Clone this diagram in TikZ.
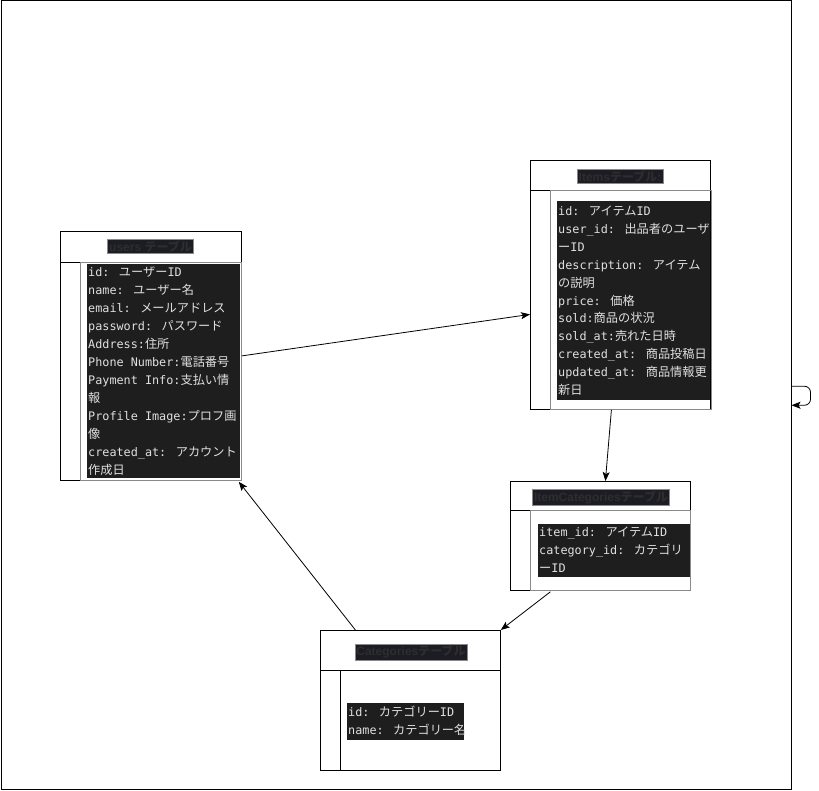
\documentclass[tikz,border=0pt]{standalone}
\usepackage{fontspec}
\usetikzlibrary{arrows.meta}
\newfontfamily\monof{DejaVu Sans Mono}
\newfontfamily\cjkf{Noto Sans CJK JP}
\newfontfamily\ttlf{Liberation Sans}
\newcommand\J[1]{{\cjkf\fontsize{12.2}{18}\selectfont #1}}
\newcommand\JT[1]{{\cjkf\fontsize{12}{14}\selectfont #1}}
\definecolor{codebg}{HTML}{1E1E1E}
\definecolor{codefg}{HTML}{E0E0E0}
\definecolor{titlebg}{HTML}{1C1C24}
\definecolor{titlefg}{HTML}{2E2E2E}
\definecolor{innergray}{HTML}{8A8A8A}
\tikzset{
  tbl/.style={draw=black, line width=0.8pt, anchor=north west, inner sep=0pt},
  ttl/.style={fill=titlebg, draw=innergray, text=titlefg, inner sep=1.5pt,
    font=\ttlf\bfseries\fontsize{12}{14}\selectfont},
  codetxt/.style={text=codefg, inner sep=0pt, anchor=base west,
    font=\monof\fontsize{11.8}{18}\selectfont},
  conn/.style={draw, line width=0.8pt, -{Stealth[length=9pt,width=7pt,inset=2pt]}},
}
\newcommand\cl[4]{\node[codetxt] (#1) at (#2,#3) {#4};}
\begin{document}
\begin{tikzpicture}[x=1pt,y=-1pt]
\useasboundingbox (0,0) rectangle (819,791);
\node[draw, line width=1pt, minimum width=790pt, minimum height=788.5pt, anchor=north west, inner sep=0pt] (frame) at (0.5,0.5) {};

% ---------- users ----------
\node[tbl, minimum width=181pt, minimum height=249pt] (users) at (60,231) {};
\draw[line width=0.8pt] (60,262) -- (241,262);
\draw[line width=0.8pt] (80,262) -- (80,480);
\draw[innergray, line width=0.8pt] (80.5,262) rectangle (241.5,480);
\node[ttl] (tu) at (150.5,246.5) {users \JT{テーブル}};
\fill[codebg] (87,264) rectangle (240,478);
\cl{u1}{88}{276.5}{id: \J{ユーザー}ID}
\cl{u2}{88}{294.5}{name: \J{ユーザー名}}
\cl{u3}{88}{312.5}{email: \J{メールアドレス}}
\cl{u4}{88}{330.5}{password: \J{パスワード}}
\cl{u5}{88}{348.5}{Address:\J{住所}}
\cl{u6}{88}{366.5}{Phone Number:\J{電話番号}}
\cl{u7}{88}{384.5}{Payment Info:\J{支払い情}}
\cl{u8}{88}{402.5}{\J{報}}
\cl{u9}{88}{420.5}{Profile Image:\J{プロフ画}}
\cl{u10}{88}{438.5}{\J{像}}
\cl{u11}{88}{456.5}{created\_at: \J{アカウント}}
\cl{u12}{88}{474.5}{\J{作成日}}

% ---------- items ----------
\node[tbl, minimum width=180pt, minimum height=249pt] (items) at (530,160) {};
\draw[line width=0.8pt] (530,190) -- (710,190);
\draw[line width=0.8pt] (550,190) -- (550,409);
\draw[innergray, line width=0.8pt] (550.5,190) rectangle (711,409);
\node[ttl] (ti) at (620,176.5) {Items\JT{テーブル}:};
\fill[codebg] (557,201) rectangle (710,400);
\cl{i1}{558}{215.5}{id: \J{アイテム}ID}
\cl{i2}{558}{233.5}{user\_id: \J{出品者のユーザ}}
\cl{i3}{558}{251.5}{\J{ー}ID}
\cl{i4}{558}{269.5}{description: \J{アイテム}}
\cl{i5}{558}{287.5}{\J{の説明}}
\cl{i6}{558}{305.5}{price: \J{価格}}
\cl{i7}{558}{323}{sold:\J{商品の状況}}
\cl{i8}{558}{341}{sold\_at:\J{売れた日時}}
\cl{i9}{558}{359}{created\_at: \J{商品投稿日}}
\cl{i10}{558}{377}{updated\_at: \J{商品情報更}}
\cl{i11}{558}{395}{\J{新日}}

% ---------- itemCategories ----------
\node[tbl, minimum width=180pt, minimum height=109pt] (itemcat) at (510,481) {};
\draw[line width=0.8pt] (510,510) -- (690,510);
\draw[line width=0.8pt] (530,510) -- (530,590);
\draw[innergray, line width=0.8pt] (530.5,510) rectangle (690.5,590);
\node[ttl] (tic) at (601,497.5) {ItemCategories\JT{テーブル}};
\fill[codebg] (538,524) rectangle (690,577);
\cl{c1}{539}{536}{item\_id: \J{アイテム}ID}
\cl{c2}{539}{554}{category\_id: \J{カテゴリ}}
\cl{c3}{539}{572}{\J{ー}ID}

% ---------- categories ----------
\node[tbl, minimum width=180pt, minimum height=140pt] (cat) at (320,630) {};
\draw[line width=0.8pt] (320,670) -- (500,670);
\draw[line width=0.8pt] (340,670) -- (340,770);
\node[ttl] (tc) at (411,652) {Categories\JT{テーブル}};
\fill[codebg] (347,703) rectangle (464,740);
\cl{k1}{348}{716}{id: \J{カテゴリー}ID}
\cl{k2}{348}{734}{name: \J{カテゴリー名}}

% ---------- connectors ----------
\draw[conn] (users.east) -- ([yshift=-29.5pt]items.west);
\draw[conn] ([xshift=-9pt]items.south) -- ([xshift=5pt]itemcat.north);
\draw[conn] ([xshift=-50pt,yshift=-1pt]itemcat.south) -- (cat.north east);
\draw[conn] ([xshift=-55pt]cat.north) -- ([xshift=-3pt,yshift=-1pt]users.south east);
\draw[conn, rounded corners=6pt] ([yshift=9pt]frame.east) -- ++(19pt,0) -- ++(0,-19pt) -- ([yshift=-10pt]frame.east);
\end{tikzpicture}
\end{document}
